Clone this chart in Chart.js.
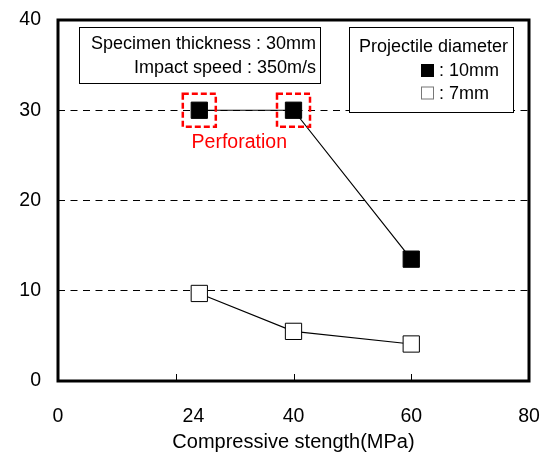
<!DOCTYPE html>
<html>
<head>
<meta charset="utf-8">
<script src="https://cdn.jsdelivr.net/npm/chart.js@4/dist/chart.umd.min.js"></script>
<style>
html,body{margin:0;padding:0;background:#fff;}
#wrap{width:551px;height:454px;}
</style>
</head>
<body>
<div id="wrap"><canvas id="c" width="551" height="454"></canvas></div>
<script>
// ---- data ----
const strength = [24, 40, 60];               // compressive strength (MPa)
const dia10 = [30, 30, 13.5];                // projectile diameter 10mm
const dia7 = [9.7, 5.5, 4.1];                // projectile diameter 7mm
const perforated10 = [true, true, false];    // perforation flags (10mm)
const xTickValues = [0, 23, 40, 60, 80];
const xTickLabels = ['0', '24', '40', '60', '80'];
const xTickMarks = [20, 40, 60];
const yTicks = [0, 10, 20, 30, 40];
const seriesLabels = [': 10mm', ': 7mm'];
const infoLines = ['Specimen thickness : 30mm', 'Impact speed : 350m/s'];
const legendTitle = 'Projectile diameter';
const perforationText = 'Perforation';
const xTitle = 'Compressive stength(MPa)';

const FONT = "'Liberation Sans', Arial, sans-serif";
Chart.defaults.font.family = FONT;
Chart.defaults.color = '#000';

const overlay = {
  id: 'overlay',
  beforeDatasetsDraw(chart) {
    const {ctx, chartArea: a} = chart;
    ctx.save();
    // info box
    const ix = a.left + 21, iy = a.top + 7, iw = 241, ih = 56;
    ctx.fillStyle = '#fff';
    ctx.fillRect(ix, iy, iw, ih);
    ctx.strokeStyle = '#000'; ctx.lineWidth = 1; ctx.setLineDash([]);
    ctx.strokeRect(ix + 0.5, iy + 0.5, iw, ih);
    ctx.font = '18px ' + FONT;
    ctx.fillStyle = '#000';
    ctx.textAlign = 'right'; ctx.textBaseline = 'alphabetic';
    ctx.fillText(infoLines[0], ix + 237, iy + 22);
    ctx.fillText(infoLines[1], ix + 237, iy + 46);
    // legend box
    const lx = a.left + 291, ly = a.top + 7, lw = 164, lh = 85;
    ctx.fillStyle = '#fff';
    ctx.fillRect(lx, ly, lw, lh);
    ctx.strokeRect(lx + 0.5, ly + 0.5, lw, lh);
    ctx.fillStyle = '#000';
    ctx.textAlign = 'left';
    ctx.fillText(legendTitle, lx + 10, ly + 25);
    chart.data.datasets.forEach((ds, i) => {
      const my = ly + 37 + i * 22.5;
      ctx.fillStyle = ds.pointBackgroundColor;
      ctx.fillRect(lx + 72, my, 13, 13);
      ctx.strokeStyle = i === 0 ? '#000' : '#777';
      ctx.strokeRect(lx + 72.5, my + 0.5, 12, 12);
      ctx.fillStyle = '#000';
      ctx.fillText(seriesLabels[i], lx + 90, my + 12);
    });
    ctx.restore();
  },
  afterDatasetsDraw(chart) {
    const {ctx, chartArea: a, scales: {x, y}} = chart;
    ctx.save();
    // red dashed perforation boxes
    ctx.strokeStyle = '#ff0000';
    ctx.lineWidth = 2.5;
    ctx.setLineDash([6, 3]);
    strength.forEach((s, i) => {
      if (!perforated10[i]) return;
      const px = x.getPixelForValue(s), py = y.getPixelForValue(dia10[i]);
      ctx.strokeRect(px - 16.5, py - 16.5, 33, 33);
    });
    ctx.setLineDash([]);
    ctx.fillStyle = '#ff0000';
    ctx.font = '19.5px ' + FONT;
    ctx.textAlign = 'center';
    ctx.textBaseline = 'alphabetic';
    ctx.fillText(perforationText, x.getPixelForValue(24) + 40, y.getPixelForValue(30) + 38);
    // tick marks (inward)
    ctx.strokeStyle = '#000';
    ctx.lineWidth = 1;
    xTickMarks.forEach(v => {
      const px = Math.round(x.getPixelForValue(v)) + 0.5;
      ctx.beginPath(); ctx.moveTo(px, a.bottom); ctx.lineTo(px, a.bottom - 7); ctx.stroke();
    });
    // plot frame
    ctx.lineWidth = 3;
    ctx.strokeRect(a.left, a.top, a.right - a.left, a.bottom - a.top);
    ctx.restore();
  }
};

new Chart(document.getElementById('c'), {
  type: 'line',
  data: {
    datasets: [
      {
        label: '10mm',
        data: strength.map((s, i) => ({x: s, y: dia10[i]})),
        borderColor: '#000', borderWidth: 1.2,
        pointStyle: 'rect', pointRadius: 11.5, pointHoverRadius: 11.5,
        pointBackgroundColor: '#000', pointBorderColor: '#000', pointBorderWidth: 1,
        tension: 0, fill: false
      },
      {
        label: '7mm',
        data: strength.map((s, i) => ({x: s, y: dia7[i]})),
        borderColor: '#000', borderWidth: 1.2,
        pointStyle: 'rect', pointRadius: 11.5, pointHoverRadius: 11.5,
        pointBackgroundColor: '#fff', pointBorderColor: '#000', pointBorderWidth: 1,
        tension: 0, fill: false
      }
    ]
  },
  options: {
    responsive: false,
    animation: false,
    events: [],
    layout: {padding: {left: 0, top: 20, right: 22, bottom: 0}},
    plugins: {legend: {display: false}, tooltip: {enabled: false}},
    scales: {
      x: {
        type: 'linear', min: 0, max: 80,
        afterBuildTicks: s => { s.ticks = xTickValues.map(v => ({value: v})); },
        afterFit: s => { s.height = 73; s.paddingLeft = 0; s.paddingRight = 0; },
        ticks: {
          autoSkip: false, maxRotation: 0,
          font: {size: 19.5}, color: '#000', padding: 24,
          callback: (v, i) => xTickLabels[i]
        },
        grid: {display: false, drawTicks: false},
        border: {display: false},
        title: {display: true, text: xTitle, font: {size: 20}, color: '#000', padding: {top: 0, bottom: 0}}
      },
      y: {
        type: 'linear', min: 0, max: 40,
        afterBuildTicks: s => { s.ticks = yTicks.map(v => ({value: v})); },
        afterFit: s => { s.width = 58; s.paddingTop = 0; s.paddingBottom = 0; },
        ticks: {font: {size: 19.5}, color: '#000', padding: 17},
        grid: {
          drawTicks: false, lineWidth: 1,
          color: c => (c.tick && c.tick.value > 0 && c.tick.value < 40) ? '#000' : 'rgba(0,0,0,0)'
        },
        border: {display: false, dash: [7, 5.5]}
      }
    }
  },
  plugins: [overlay]
});
</script>
</body>
</html>
